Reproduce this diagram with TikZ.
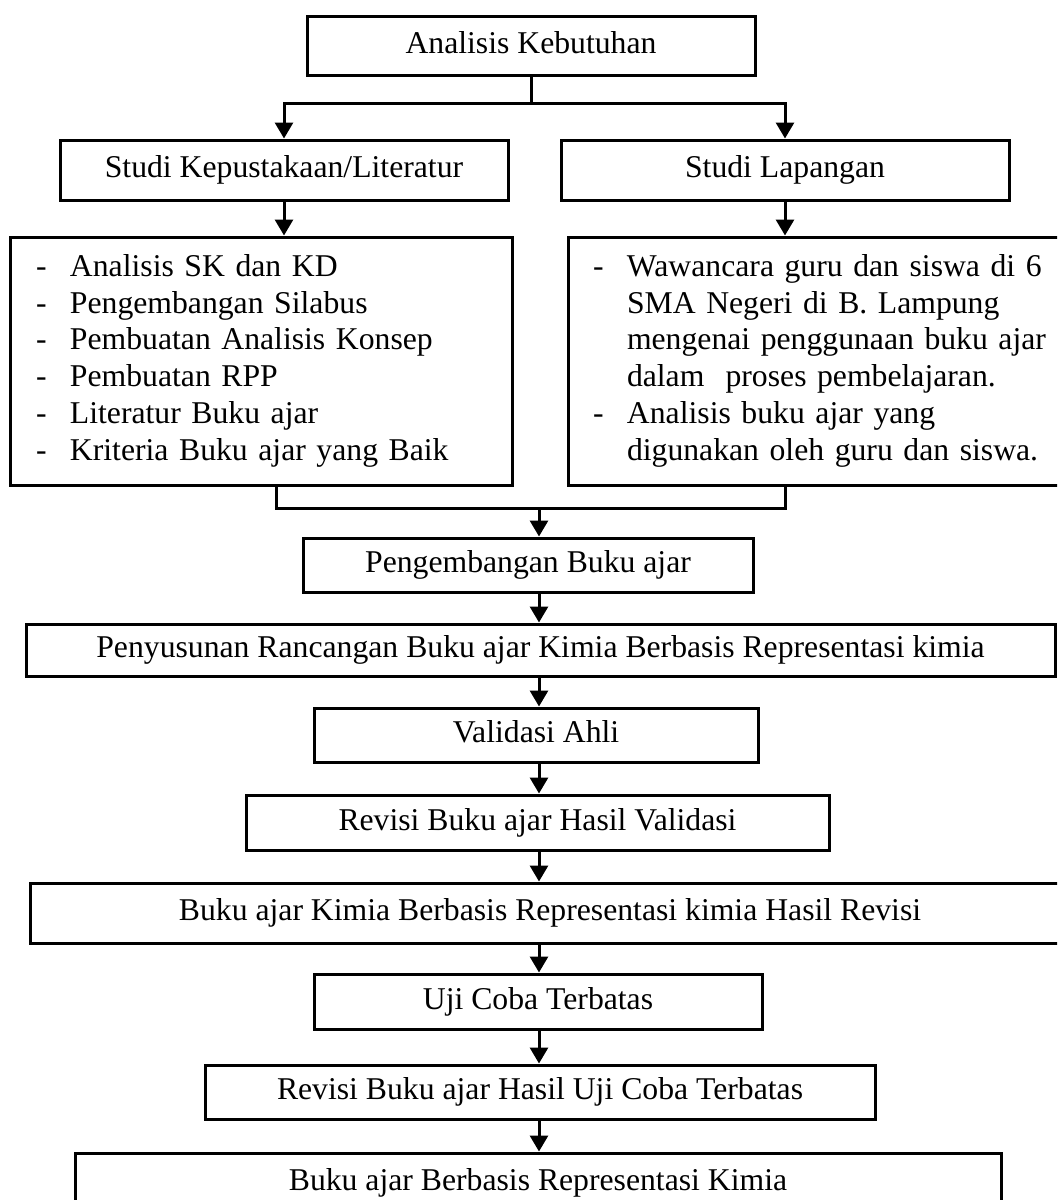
\documentclass[tikz,border=0pt]{standalone}
\usepackage{fontspec}
\setmainfont{Liberation Serif}
\usetikzlibrary{arrows.meta}

\begin{document}
\begin{tikzpicture}[x=0.5pt, y=-0.5pt,
    font=\fontsize{15.85pt}{18.4pt}\selectfont,
    box/.style={draw, rectangle, line width=1.5pt, inner sep=0pt, text height=0.75em, text depth=0pt},
    listbox/.style={draw, rectangle, line width=1.5pt, inner ysep=0pt, align=left, minimum height=124pt},
    line/.style={line width=1.5pt},
    arr/.style={line width=1.5pt, -{Triangle[width=9pt,length=8pt]}}]
    \path[use as bounding box, clip] (0,0) rectangle (1057,1200);

    \node[box, minimum width=224pt, minimum height=29.5pt] (A) at (531,45.5) {Analisis Kebutuhan};
    \node[box, minimum width=224pt, minimum height=30pt] (B) at (284,170) {Studi Kepustakaan/Literatur};
    \node[box, minimum width=224pt, minimum height=30pt] (C) at (785,170) {Studi Lapangan};

    \node[listbox, inner xsep=13pt, text width=225pt] (D) at (261,361) {%
        \begin{tabular}{@{}p{17pt}@{}l@{}}
        - & Analisis SK dan KD\\
        - & Pengembangan Silabus\\
        - & Pembuatan Analisis Konsep\\
        - & Pembuatan RPP\\
        - & Literatur Buku ajar\\
        - & Kriteria Buku ajar yang Baik
        \end{tabular}};
    \node[listbox, inner xsep=12.5pt, text width=231pt] (E) at (824,361) {%
        \begin{tabular}{@{}p{17pt}@{}l@{}}
        - & Wawancara guru dan siswa di 6\\
          & SMA Negeri di B. Lampung\\
          & mengenai penggunaan buku ajar\\
          & dalam~ proses pembelajaran.\\
        - & Analisis buku ajar yang\\
          & digunakan oleh guru dan siswa.
        \end{tabular}};

    \node[box, minimum width=225pt, minimum height=27pt] (F) at (528,565) {Pengembangan Buku ajar};
    \node[box, minimum width=514.5pt, minimum height=26pt] (G) at (540.5,650) {Penyusunan Rancangan Buku ajar Kimia Berbasis Representasi kimia};
    \node[box, minimum width=222pt, minimum height=27pt] (H) at (536,735) {Validasi Ahli};
    \node[box, minimum width=291.5pt, minimum height=27.5pt] (I) at (537.5,822.5) {Revisi Buku ajar Hasil Validasi};
    \node[box, minimum width=520pt, minimum height=30pt] (J) at (550,913) {Buku ajar Kimia Berbasis Representasi kimia Hasil Revisi};
    \node[box, minimum width=224pt, minimum height=27.5pt] (K) at (538,1001.5) {Uji Coba Terbatas};
    \node[box, minimum width=335pt, minimum height=27pt] (L) at (540,1092) {Revisi Buku ajar Hasil Uji Coba Terbatas};
    \node[box, minimum width=463pt, minimum height=30pt] (M) at (538,1183) {Buku ajar Berbasis Representasi Kimia};

    % split and merge points
    \coordinate (split) at (531,103);
    \coordinate (merge) at (539,508);

    \draw[line] (A) -- (split);
    \draw[arr] (split) -| (B.north);
    \draw[arr] (split) -| (C.north);
    \draw[arr] (B) -- (B |- D.north);
    \draw[arr] (C) -- (C |- E.north);

    \draw[line] ([xshift=7.5pt]D.south) |- (merge) -| (E.south -| C);
    \draw[arr] (merge) -- (F.north -| merge);

    \draw[arr] (F.south -| merge) -- (G.north -| merge);
    \draw[arr] (G.south -| merge) -- (H.north -| merge);
    \draw[arr] (H.south -| merge) -- (I.north -| merge);
    \draw[arr] (I.south -| merge) -- (J.north -| merge);
    \draw[arr] (J.south -| merge) -- (K.north -| merge);
    \draw[arr] (K.south -| merge) -- (L.north -| merge);
    \draw[arr] (L.south -| merge) -- (M.north -| merge);
\end{tikzpicture}
\end{document}
